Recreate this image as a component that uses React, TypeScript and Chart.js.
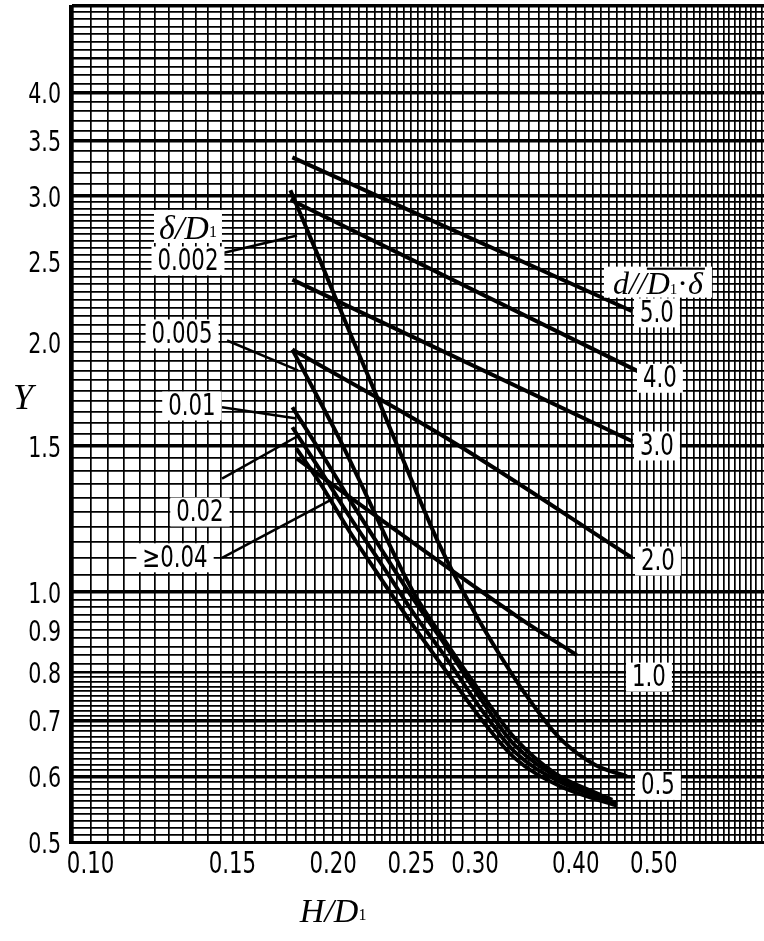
import React, { useEffect, useRef } from 'react';
import { Chart, registerables } from 'chart.js';
Chart.register(...registerables);

// ---------------- data ----------------
const xTickLabels = [0.1, 0.15, 0.2, 0.25, 0.3, 0.4, 0.5];
const yTickLabels = [0.5, 0.6, 0.7, 0.8, 0.9, 1.0, 1.5, 2.0, 2.5, 3.0, 3.5, 4.0];

// d/(D1·δ) family
const d50X = [0.178, 0.47];
const d50Y = [3.34, 2.18];
const d40X = [0.177, 0.481];
const d40Y = [2.97, 1.84];
const d30X = [0.178, 0.47];
const d30Y = [2.38, 1.52];
const d20X = [0.178, 0.279, 0.47];
const d20Y = [1.96, 1.525, 1.1];
const d10X = [0.18, 0.23, 0.341, 0.401];
const d10Y = [1.45, 1.22, 0.93, 0.84];

// δ/D1 family
const s002X = [0.177, 0.193, 0.21, 0.229, 0.249, 0.271, 0.296, 0.322, 0.351, 0.382, 0.423, 0.463];
const s002Y = [3.05, 2.5, 2.05, 1.68, 1.38, 1.14, 0.965, 0.84, 0.74, 0.667, 0.619, 0.6];
const s005X = [0.178, 0.19, 0.204, 0.219, 0.235, 0.253, 0.275, 0.304, 0.336, 0.377, 0.429];
const s005Y = [1.96, 1.74, 1.525, 1.32, 1.14, 0.99, 0.875, 0.76, 0.667, 0.605, 0.57];
const s01X = [0.178, 0.193, 0.21, 0.229, 0.251, 0.277, 0.304, 0.336, 0.382, 0.444];
const s01Y = [1.67, 1.475, 1.29, 1.13, 0.984, 0.857, 0.747, 0.654, 0.597, 0.562];
const s02X = [0.178, 0.193, 0.21, 0.229, 0.251, 0.277, 0.304, 0.336, 0.382, 0.45];
const s02Y = [1.58, 1.4, 1.23, 1.085, 0.947, 0.83, 0.727, 0.642, 0.591, 0.557];
const s04X = [0.18, 0.193, 0.21, 0.229, 0.251, 0.277, 0.304, 0.336, 0.382, 0.45];
const s04Y = [1.49, 1.35, 1.18, 1.04, 0.913, 0.8, 0.707, 0.631, 0.584, 0.553];

// leader lines from the δ/D1 labels to their curves
const lead002X = [0.1456, 0.1804];
const lead002Y = [2.56, 2.69];
const lead005X = [0.1477, 0.1809];
const lead005Y = [2.01, 1.85];
const lead01X = [0.1456, 0.1794];
const lead01Y = [1.67, 1.62];
const lead02X = [0.1456, 0.1804];
const lead02Y = [1.37, 1.54];
const lead04X = [0.1456, 0.1982];
const lead04Y = [1.1, 1.29];

// label texts and their anchor values (data units)
const numberLabels = [
  { text: '0.002', x: 0.1321, y: 2.506 },
  { text: '0.005', x: 0.1299, y: 2.047 },
  { text: '0.01', x: 0.1336, y: 1.676 },
  { text: '0.02', x: 0.1367, y: 1.249 },
  { text: '≥0.04', x: 0.1273, y: 1.1 },
  { text: '5.0', x: 0.5045, y: 2.17 },
  { text: '4.0', x: 0.5088, y: 1.81 },
  { text: '3.0', x: 0.5045, y: 1.5 },
  { text: '2.0', x: 0.5059, y: 1.09 },
  { text: '1.0', x: 0.4931, y: 0.79 },
  { text: '0.5', x: 0.5059, y: 0.585 },
];
const deltaTitleAnchor = { x: 0.1321, y: 2.754 };
const dTitleAnchor = { x: 0.5059, y: 2.36 };

// axis ranges
const X_MIN = 0.0943;
const X_MAX = 0.717;
const Y_MIN = 0.5;
const Y_MAX = 5.084;

// ---------------- helpers ----------------
function range(a: number, b: number, step: number): number[] {
  const out: number[] = [];
  const n = Math.round((b - a) / step);
  for (let i = 0; i <= n; i++) out.push(+(a + i * step).toFixed(4));
  return out;
}
const xGrid = [...range(0.095, 0.28, 0.005), ...range(0.29, 0.7, 0.01)];
const yGrid = [
  ...range(0.5, 0.8, 0.01),
  ...range(0.82, 1.0, 0.02),
  ...range(1.05, 1.5, 0.05),
  ...range(1.55, 3.0, 0.05),
  ...range(3.1, 5.0, 0.1),
  Y_MAX,
];
const yThick = [0.6, 0.7, 1.0, 1.5, 3.0, 3.5, 4.0, Y_MAX];
const yMedium = [0.8, 4.4];
const near = (a: number, b: number) => Math.abs(a - b) < 1e-6;

function pts(xs: number[], ys: number[]) {
  return xs.map((x, i) => ({ x, y: ys[i] }));
}

function hasFont(name: string): boolean {
  const c = document.createElement('canvas').getContext('2d')!;
  const s = '0.002 4.0 abc';
  c.font = '30px monospace';
  const w1 = c.measureText(s).width;
  c.font = `30px "${name}", monospace`;
  const w2 = c.measureText(s).width;
  return Math.abs(w1 - w2) > 0.5;
}

const SERIF = "'Liberation Serif','DejaVu Serif',serif";

export default function App() {
  const ref = useRef<HTMLCanvasElement>(null);

  useEffect(() => {
    document.body.style.margin = '0';
    const numFamily = hasFont('Liberation Sans Narrow')
      ? "'Liberation Sans Narrow'"
      : hasFont('DejaVu Sans Condensed')
      ? "'DejaVu Sans Condensed'"
      : "'Liberation Sans',sans-serif";
    const probe = document.createElement('canvas').getContext('2d')!;
    probe.font = `30px ${numFamily}`;
    // squeeze digits so that "0.002" is about 61 px wide (tall, narrow figures)
    const numScale = Math.min(1, 61 / probe.measureText('0.002').width);

    const drawNum = (
      ctx: CanvasRenderingContext2D,
      text: string,
      px: number,
      py: number,
      align: CanvasTextAlign,
      size = 30
    ) => {
      ctx.save();
      ctx.font = `${size}px ${numFamily}`;
      ctx.translate(px, py);
      ctx.scale(numScale, 1);
      ctx.fillStyle = '#000';
      ctx.textAlign = align;
      ctx.textBaseline = 'middle';
      ctx.fillText(text, 0, 1);
      ctx.restore();
    };

    const drawBoxed = (ctx: CanvasRenderingContext2D, text: string, cx: number, cy: number) => {
      ctx.font = `30px ${numFamily}`;
      const tw = ctx.measureText(text).width * numScale;
      const w = tw + 12;
      const h = 29;
      ctx.fillStyle = '#fff';
      ctx.fillRect(cx - w / 2, cy - h / 2, w, h);
      drawNum(ctx, text, cx, cy, 'center');
    };

    type Part = { t: string; font: string; dy?: number };
    const drawParts = (ctx: CanvasRenderingContext2D, parts: Part[], cx: number, baseY: number) => {
      const widths = parts.map((p) => {
        ctx.font = p.font;
        return ctx.measureText(p.t).width;
      });
      const total = widths.reduce((a, b) => a + b, 0);
      let xx = cx - total / 2;
      const starts: number[] = [];
      ctx.fillStyle = '#000';
      ctx.textAlign = 'left';
      ctx.textBaseline = 'alphabetic';
      parts.forEach((p, i) => {
        ctx.font = p.font;
        starts.push(xx);
        ctx.fillText(p.t, xx, baseY + (p.dy ?? 0));
        xx += widths[i];
      });
      return { starts, widths, total };
    };

    const overlay = {
      id: 'overlay',
      afterDatasetsDraw(chart: any) {
        const { ctx, scales, chartArea } = chart;
        const xs = scales.x;
        const ys = scales.y;
        ctx.save();

        // tick labels, placed by the scales
        for (const v of xTickLabels) {
          drawNum(ctx, v.toFixed(2), xs.getPixelForValue(v), chartArea.bottom + 22, 'center');
        }
        for (const v of yTickLabels) {
          drawNum(ctx, v.toFixed(1), chartArea.left - 9, ys.getPixelForValue(v) + 2, 'right', 29);
        }

        for (const lb of numberLabels) {
          drawBoxed(ctx, lb.text, xs.getPixelForValue(lb.x), ys.getPixelForValue(lb.y));
        }
        // δ/D1 title box
        {
          const cx = xs.getPixelForValue(deltaTitleAnchor.x);
          const cy = ys.getPixelForValue(deltaTitleAnchor.y);
          ctx.fillStyle = '#fff';
          ctx.fillRect(cx - 34, cy - 17, 68, 33);
          drawParts(
            ctx,
            [
              { t: 'δ', font: `italic 34px ${SERIF}` },
              { t: '/', font: `italic 34px ${SERIF}` },
              { t: 'D', font: `italic 34px ${SERIF}` },
              { t: '1', font: `16px ${SERIF}`, dy: -2 },
            ],
            cx,
            cy + 12
          );
        }
        // d/(D1·δ) title box
        {
          const cx = xs.getPixelForValue(dTitleAnchor.x);
          const cy = ys.getPixelForValue(dTitleAnchor.y);
          ctx.fillStyle = '#fff';
          ctx.fillRect(cx - 54, cy - 16, 108, 31);
          const r = drawParts(
            ctx,
            [
              { t: 'd', font: `italic 32px ${SERIF}` },
              { t: '/', font: `italic 32px ${SERIF}` },
              { t: '/', font: `italic 32px ${SERIF}` },
              { t: 'D', font: `italic 32px ${SERIF}` },
              { t: '1', font: `15px ${SERIF}`, dy: 0 },
              { t: '·', font: `32px ${SERIF}` },
              { t: 'δ', font: `italic 32px ${SERIF}` },
            ],
            cx,
            cy + 11
          );
          ctx.strokeStyle = '#000';
          ctx.lineWidth = 2;
          ctx.beginPath();
          ctx.moveTo(r.starts[2] + 9, cy - 14);
          ctx.lineTo(r.starts[6] + r.widths[6] + 2, cy - 14);
          ctx.stroke();
        }
        // axis titles
        drawParts(ctx, [{ t: 'Y', font: `italic 36px ${SERIF}` }], chartArea.left - 47, ys.getPixelForValue(1.72) + 12);
        drawParts(
          ctx,
          [
            { t: 'H', font: `italic 34px ${SERIF}` },
            { t: '/', font: `italic 34px ${SERIF}` },
            { t: 'D', font: `italic 34px ${SERIF}` },
            { t: '1', font: `16px ${SERIF}`, dy: -2 },
          ],
          xs.getPixelForValue(0.2),
          chartArea.bottom + 80
        );
        ctx.restore();
      },
    };

    const line = (xsArr: number[], ysArr: number[], width: number, curve: boolean) => ({
      data: pts(xsArr, ysArr),
      borderColor: '#000',
      backgroundColor: '#000',
      borderWidth: width,
      pointRadius: 0,
      fill: false,
      cubicInterpolationMode: curve ? ('monotone' as const) : ('default' as const),
      tension: 0,
    });

    const chart = new Chart(ref.current!, {
      type: 'line',
      data: {
        datasets: [
          { label: '5.0', ...line(d50X, d50Y, 4, false) },
          { label: '4.0', ...line(d40X, d40Y, 4, false) },
          { label: '3.0', ...line(d30X, d30Y, 4, false) },
          { label: '2.0', ...line(d20X, d20Y, 4, true) },
          { label: '1.0', ...line(d10X, d10Y, 4, true) },
          { label: '0.002', ...line(s002X, s002Y, 4, true) },
          { label: '0.005', ...line(s005X, s005Y, 4, true) },
          { label: '0.01', ...line(s01X, s01Y, 4, true) },
          { label: '0.02', ...line(s02X, s02Y, 4, true) },
          { label: '≥0.04', ...line(s04X, s04Y, 4, true) },
          { label: 'lead 0.002', ...line(lead002X, lead002Y, 2.5, false) },
          { label: 'lead 0.005', ...line(lead005X, lead005Y, 2.5, false) },
          { label: 'lead 0.01', ...line(lead01X, lead01Y, 2.5, false) },
          { label: 'lead 0.02', ...line(lead02X, lead02Y, 2.5, false) },
          { label: 'lead 0.04', ...line(lead04X, lead04Y, 2.5, false) },
        ],
      },
      options: {
        animation: false,
        responsive: false,
        devicePixelRatio: 1,
        layout: { padding: { top: 6, left: 0, right: 0, bottom: 0 } },
        plugins: { legend: { display: false }, tooltip: { enabled: false } },
        elements: { line: { borderCapStyle: 'butt', borderJoinStyle: 'round' } },
        scales: {
          x: {
            type: 'logarithmic',
            min: X_MIN,
            max: X_MAX,
            afterBuildTicks: (s: any) => {
              s.ticks = xGrid.filter((v) => v >= X_MIN && v <= X_MAX).map((v) => ({ value: v }));
            },
            afterFit: (s: any) => {
              s.height = 99;
              s.paddingLeft = 0;
              s.paddingRight = 0;
              s.paddingTop = 0;
              s.paddingBottom = 0;
            },
            ticks: { display: false, autoSkip: false, maxRotation: 0, minRotation: 0 },
            grid: {
              color: '#000',
              lineWidth: 1.7,
              drawTicks: false,
            },
            border: { display: true, color: '#000', width: 3 },
          },
          y: {
            type: 'logarithmic',
            min: Y_MIN,
            max: Y_MAX,
            afterBuildTicks: (s: any) => {
              s.ticks = yGrid.filter((v) => v >= Y_MIN && v <= Y_MAX).map((v) => ({ value: v }));
            },
            afterFit: (s: any) => {
              s.width = 70;
              s.paddingLeft = 0;
              s.paddingRight = 0;
              s.paddingTop = 0;
              s.paddingBottom = 0;
            },
            ticks: { display: false, autoSkip: false },
            grid: {
              color: '#000',
              drawTicks: false,
              lineWidth: (c: any) => {
                const v = c.tick?.value;
                if (v === undefined) return 1.7;
                if (yThick.some((t) => near(t, v))) return 3.5;
                if (yMedium.some((t) => near(t, v))) return 2.6;
                return 1.7;
              },
            },
            border: { display: true, color: '#000', width: 3 },
          },
        },
      },
      plugins: [overlay],
    });
    return () => chart.destroy();
  }, []);

  return (
    <div style={{ position: 'absolute', left: 0, top: 0, width: 764, height: 941, overflow: 'hidden', background: '#fff' }}>
      <canvas ref={ref} width={780} height={941} style={{ display: 'block', width: 780, height: 941 }} />
    </div>
  );
}
